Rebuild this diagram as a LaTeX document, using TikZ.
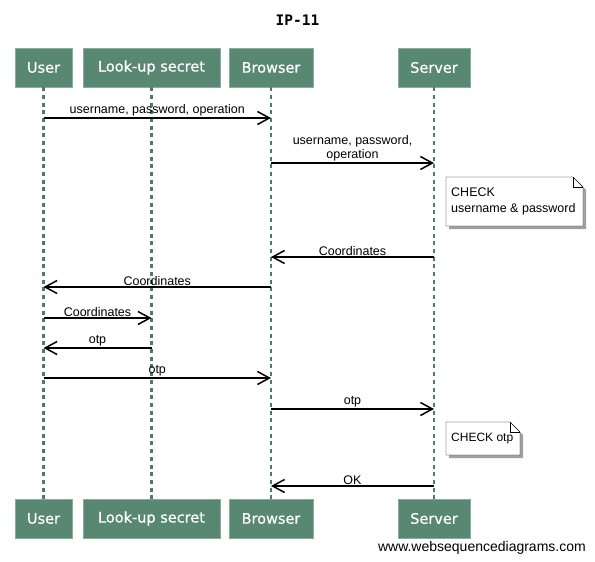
\documentclass[tikz,border=0pt]{standalone}
\usepackage{fontspec}
\setmainfont{Liberation Sans}
\newfontfamily\actorfont[FakeBold=0.6]{DejaVu Sans}
\newfontfamily\titlefont{DejaVu Sans Mono}
\usetikzlibrary{arrows.meta}

\definecolor{actorgreen}{RGB}{88,136,114}
\definecolor{noteshadow}{RGB}{160,160,160}

\tikzset{
  actor/.style={fill=actorgreen, draw=actorgreen!70!white, text=white,
    font=\actorfont\fontsize{14.5}{16}\selectfont, minimum height=39pt, inner sep=0pt},
  lifeline/.style={draw=actorgreen!90!black, line width=2.5pt, dash pattern=on 4pt off 3.7pt},
  msg/.style={line width=1.5pt, -{Straight Barb[length=12pt,width=13pt,line width=1.5pt]}},
  msglabel/.style={font=\fontsize{12.5}{14}\selectfont, inner sep=1pt, align=center},
  notetext/.style={font=\fontsize{12.5}{16}\selectfont, align=left, anchor=west, inner sep=0pt}
}

% folded note: x1,y1,x2,y2
\newcommand\notebox[4]{%
  \fill[noteshadow] (#1+3,#2+3) -- (#3+3-10,#2+3) -- (#3+3,#2+13) -- (#3+3,#4+3) -- (#1+3,#4+3) -- cycle;
  \draw[fill=white] (#1,#2) -- (#3-10,#2) -- (#3,#2+10) -- (#3,#4) -- (#1,#4) -- cycle;
  \draw (#3-10,#2) -- (#3-10,#2+10) -- (#3,#2+10);
}

\begin{document}
\begin{tikzpicture}[x=1pt,y=-1pt]
\useasboundingbox (0,0) rectangle (595,562);

\node[font=\titlefont\bfseries\fontsize{14.5}{16}\selectfont] (title) at (297.5,20) {IP-11};

\begin{scope}[every node/.style={actor}]
\node[minimum width=57pt] (user) at (43.5,67.5) {User};
\node[minimum width=137pt] (lookup) at (151.5,67.5) {Look-up secret};
\node[minimum width=84pt] (browser) at (271,67.5) {Browser};
\node[minimum width=72pt] (server) at (434,67.5) {Server};

\node[minimum width=57pt] (userB) at (43.5,518.5) {User};
\node[minimum width=137pt] (lookupB) at (151.5,518.5) {Look-up secret};
\node[minimum width=84pt] (browserB) at (271,518.5) {Browser};
\node[minimum width=72pt] (serverB) at (434,518.5) {Server};
\end{scope}

\foreach \p in {user,lookup,browser,server}
  \draw[lifeline] (\p.south) -- (\p B.north);

\draw[msg] (user.south |- 0,118) -- (browser.south |- 0,118)
  node[msglabel,midway,above] {username, password, operation};
\draw[msg] (browser.south |- 0,163) -- (server.south |- 0,163)
  node[msglabel,midway,above] {username, password,\\operation};

\notebox{446}{177}{583}{226}
\node[notetext] (chk1) at (451,201.5) {CHECK\\username \& password};

\draw[msg] (server.south |- 0,257) -- (browser.south |- 0,257)
  node[msglabel,midway,above] {Coordinates};
\draw[msg] (browser.south |- 0,287) -- (user.south |- 0,287)
  node[msglabel,midway,above] {Coordinates};
\draw[msg] (user.south |- 0,318) -- (lookup.south |- 0,318)
  node[msglabel,midway,above] {Coordinates};
\draw[msg] (lookup.south |- 0,348) -- (user.south |- 0,348)
  node[msglabel,midway,above] {otp};
\draw[msg] (user.south |- 0,378) -- (browser.south |- 0,378)
  node[msglabel,midway,above] {otp};
\draw[msg] (browser.south |- 0,409) -- (server.south |- 0,409)
  node[msglabel,midway,above] {otp};

\notebox{446}{422}{520}{455}
\node[notetext, font=\fontsize{12}{16}\selectfont] (chk2) at (451,439) {CHECK otp};

\draw[msg] (server.south |- 0,486) -- (browser.south |- 0,486)
  node[msglabel,midway,above] {OK};

\node[font=\fontsize{14}{16}\selectfont, anchor=east, inner sep=0pt] (wsd) at (586,548) {www.websequencediagrams.com};

\end{tikzpicture}
\end{document}
